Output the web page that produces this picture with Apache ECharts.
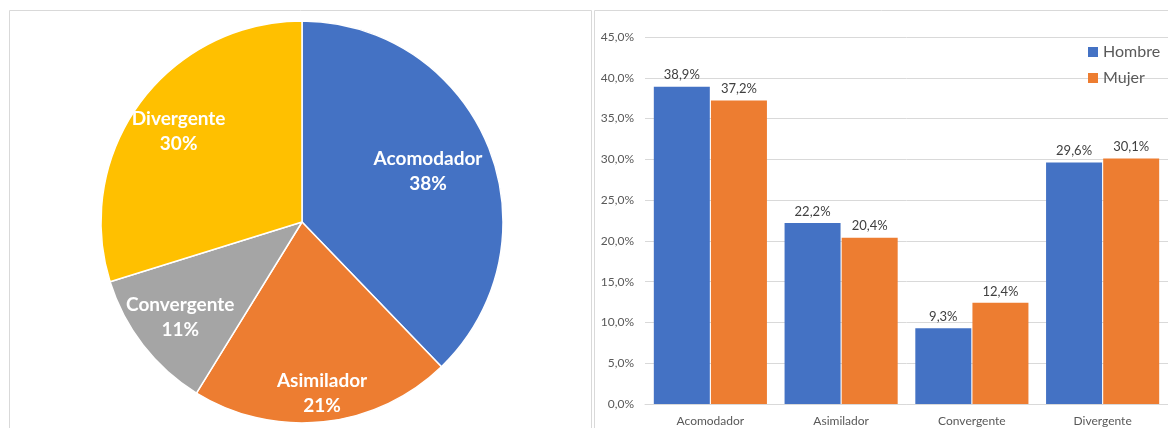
<!DOCTYPE html>
<html>
<head>
<meta charset="utf-8">
<script src="https://cdn.jsdelivr.net/npm/echarts@6/dist/echarts.min.js"></script>
<style>
  html, body { margin: 0; padding: 0; background: #fff; }
  #main { width: 1168px; height: 428px; }
</style>
</head>
<body>
<div id="main"></div>
<script>
// datos
var estilos = ['Acomodador', 'Asimilador', 'Convergente', 'Divergente'];
var totalPct = [37.8, 21.0, 11.4, 29.8];
var hombre = [38.9, 22.2, 9.3, 29.6];
var mujer = [37.2, 20.4, 12.4, 30.1];
var yTicks = [0, 5, 10, 15, 20, 25, 30, 35, 40, 45];

var pieColors = ['#4472C4', '#ED7D31', '#A5A5A5', '#FFC000'];
// desplazamiento de etiquetas del pastel (estilo Excel "mejor ajuste")
var pieLabelShift = [[30, -12], [9, 68], [-40, 32], [-40, -29]];

var fmt = function (v) { return v.toFixed(1).replace('.', ',') + '%'; };
var font = 'Lato, "Open Sans", sans-serif';

var chart = echarts.init(document.getElementById('main'));

var pieData = [];
var pieLabels = [];
for (var i = 0; i < estilos.length; i++) {
    pieData.push({
        name: estilos[i],
        value: totalPct[i],
        itemStyle: { color: pieColors[i] }
    });
    pieLabels.push({
        name: estilos[i],
        value: totalPct[i],
        label: { offset: pieLabelShift[i] }
    });
}

var option = {
    animation: false,
    textStyle: { fontFamily: font },
    graphic: [
        { type: 'rect', shape: { x: 9.5, y: 10.5, width: 582, height: 430 },
          style: { fill: 'none', stroke: '#d9d9d9', lineWidth: 1 }, silent: true },
        { type: 'rect', shape: { x: 594.5, y: 10.5, width: 600, height: 430 },
          style: { fill: 'none', stroke: '#d9d9d9', lineWidth: 1 }, silent: true }
    ],
    legend: {
        orient: 'vertical',
        left: 1083,
        top: 39,
        itemWidth: 10,
        itemHeight: 10,
        itemGap: 10,
        icon: 'rect',
        textStyle: { fontSize: 16, color: '#595959', fontFamily: font },
        data: ['Hombre', 'Mujer']
    },
    grid: { left: 645, right: -2, top: 37, bottom: 24 },
    xAxis: {
        type: 'category',
        data: estilos,
        axisLine: { lineStyle: { color: '#d9d9d9' } },
        axisTick: { show: false },
        axisLabel: { color: '#595959', fontSize: 12, margin: 11 }
    },
    yAxis: {
        type: 'value',
        min: yTicks[0],
        max: yTicks[yTicks.length - 1],
        interval: 5,
        axisLine: { show: false },
        axisTick: { show: false },
        splitLine: { lineStyle: { color: '#d9d9d9' } },
        axisLabel: { color: '#595959', fontSize: 12, margin: 11, formatter: fmt }
    },
    series: [
        {
            type: 'pie',
            center: [302, 222],
            radius: 201,
            startAngle: 90,
            clockwise: true,
            itemStyle: { borderColor: '#fff', borderWidth: 1.5 },
            label: { show: false },
            labelLine: { show: false },
            emphasis: { disabled: true },
            silent: true,
            data: pieData
        },
        {
            // capa de etiquetas encima del pastel
            type: 'pie',
            center: [302, 222],
            radius: 201,
            startAngle: 90,
            clockwise: true,
            percentPrecision: 0,
            z: 5,
            silent: true,
            itemStyle: { color: 'rgba(0,0,0,0)' },
            label: {
                position: 'inside',
                formatter: '{b}\n{d}%',
                color: '#fff',
                fontSize: 19,
                fontWeight: 'bold',
                lineHeight: 25,
                overflow: 'none',
                fontFamily: font
            },
            labelLine: { show: false },
            labelLayout: { hideOverlap: false },
            emphasis: { disabled: true },
            data: pieLabels
        },
        {
            name: 'Hombre',
            type: 'bar',
            data: hombre,
            barWidth: 56,
            barGap: '2%',
            itemStyle: { color: '#4472C4' },
            label: { show: true, position: 'top', distance: 5, color: '#404040', fontSize: 13,
                     formatter: function (p) { return fmt(p.value); } }
        },
        {
            name: 'Mujer',
            type: 'bar',
            data: mujer,
            barWidth: 56,
            itemStyle: { color: '#ED7D31' },
            label: { show: true, position: 'top', distance: 5, color: '#404040', fontSize: 13,
                     formatter: function (p) { return fmt(p.value); } }
        }
    ]
};

chart.setOption(option);
</script>
</body>
</html>
